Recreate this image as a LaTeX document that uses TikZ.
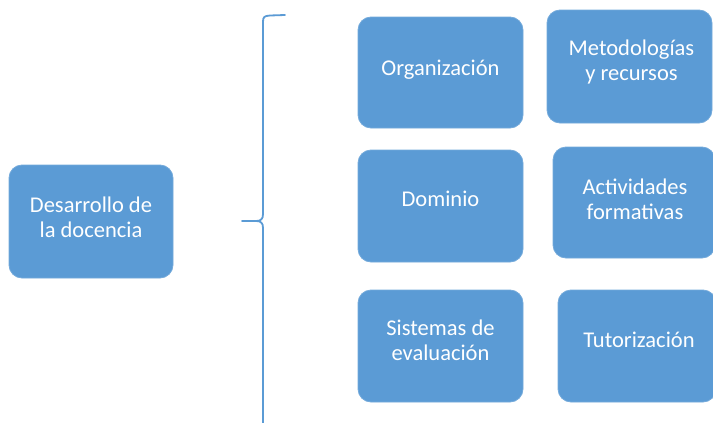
\documentclass[tikz,border=0pt]{standalone}
\usepackage{fontspec}
\setmainfont{Carlito}
\definecolor{boxblue}{HTML}{5B9BD5}
\definecolor{bracecol}{HTML}{5B9BD5}
\begin{document}
\begin{tikzpicture}[x=1pt,y=-1pt,
  box/.style={draw=boxblue!85!white,line width=0.8pt,fill=boxblue,rounded corners=13pt,inner sep=0pt},
  txt/.style={text=white,font=\fontsize{22.5}{25}\selectfont,align=center,inner sep=0pt}]
\useasboundingbox (0,0) rectangle (713,423);
\fill[white] (0,0) rectangle (713,423);
\node[box,minimum width=164pt,minimum height=113pt] (des) at (91,221.5) {};
\node[box,minimum width=165pt,minimum height=111pt] (org) at (440.5,72.5) {};
\node[box,minimum width=165pt,minimum height=112pt] (dom) at (440.5,206) {};
\node[box,minimum width=165pt,minimum height=112pt] (sis) at (440.5,346) {};
\node[box,minimum width=165pt,minimum height=113pt] (met) at (629.5,66.5) {};
\node[box,minimum width=162pt,minimum height=111pt] (act) at (634,202.5) {};
\node[box,minimum width=158pt,minimum height=112pt] (tut) at (637,346) {};
\node[txt] (desT) at ([yshift=4pt]des.center) {Desarrollo de\\la docencia};
\node[txt] (orgT) at ([yshift=3pt]org.center) {Organización};
\node[txt] (domT) at ([yshift=7pt]dom.center) {Dominio};
\node[txt] (sisT) at ([yshift=6pt]sis.center) {Sistemas de\\evaluación};
\node[txt] (metT) at ([xshift=2pt,yshift=4.5pt]met.center) {Metodologías\\y recursos};
\node[txt] (actT) at ([xshift=1pt,yshift=3.5pt]act.center) {Actividades\\formativas};
\node[txt] (tutT) at ([xshift=2pt,yshift=6pt]tut.center) {Tutorización};
\coordinate (btop) at (285,15);
\coordinate (btip) at (242,221);
\coordinate (bbot) at (263,425);
\draw[bracecol,line width=1.8pt,line cap=round]
  (btop) -- (270,15.5) .. controls (264,16) and (263,17) .. (263,22)
  -- (263,214) .. controls (263,219) and (261,221) .. (256,221) -- (btip);
\draw[bracecol,line width=1.8pt]
  (btip) -- (256,221) .. controls (261,221) and (263,223) .. (263,228) -- (bbot);
\end{tikzpicture}
\end{document}
